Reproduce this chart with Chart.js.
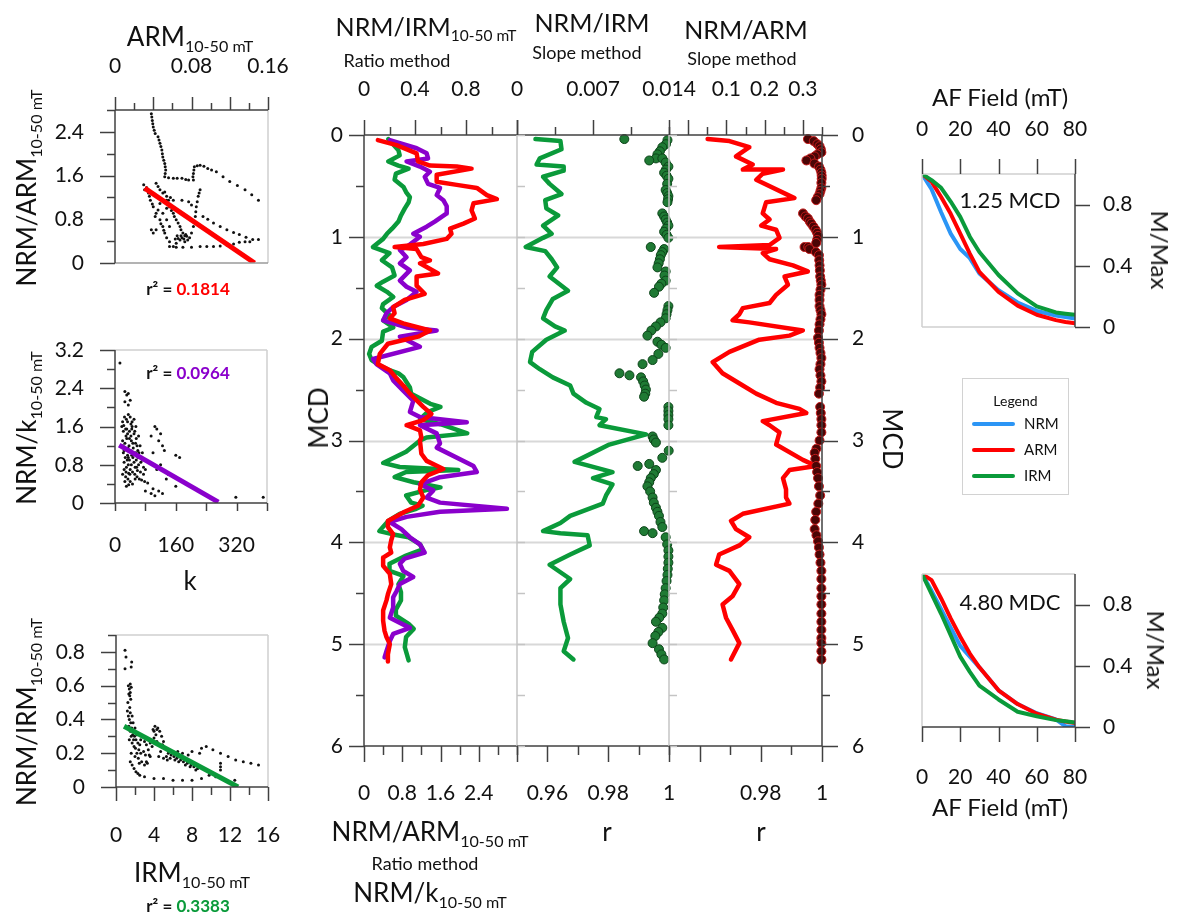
<!DOCTYPE html>
<html>
<head>
<meta charset="utf-8">
<script src="https://cdn.jsdelivr.net/npm/chart.js@4.4.1/dist/chart.umd.min.js"></script>
<style>
  body { margin: 0; background: #fff; }
  #page { position: relative; width: 1177px; height: 920px; overflow: hidden; font-family: Lato, "Open Sans", sans-serif; color: #111; }
  canvas { position: absolute; }
  .t { position: absolute; white-space: nowrap; line-height: 1; }
  .t sub { font-size: 0.62em; vertical-align: -0.35em; line-height: 0; }
  #legend { position: absolute; left: 962px; top: 378px; width: 105px; height: 115px; border: 1.5px solid #d2d2d2; font-size: 15px; }
  #legend .h { position: absolute; left: 0; width: 100%; top: 13px; text-align: center; font-size: 14px; }
  #legend .row { position: absolute; left: 9px; height: 16px; }
  #legend .row i { position: absolute; left: 0; top: 6px; width: 43px; height: 4px; border-radius: 2px; }
  #legend .row span { position: absolute; left: 52px; top: -2px; }
</style>
</head>
<body>
<div id="page"></div>
<script>
const FONT = 'Lato, "Open Sans", sans-serif';
const TICK = 21;
const RED = '#ff0000', PURPLE = '#8a00cc', GREEN = '#0a9a3a', BLUE = '#2b95f5';

// ---- left scatter panels ----
const armTicks = ['0', '0.08', '0.16'];
const armRatioTicks = ['0', '0.8', '1.6', '2.4'];
const armPoints = [
  [0.038,2.73],[0.0385,2.67],[0.039,2.61],[0.0395,2.55],[0.040,2.49],[0.041,2.43],[0.042,2.37],[0.045,2.31],[0.046,2.25],
  [0.047,2.19],[0.048,2.13],[0.049,2.07],[0.0495,2.0],[0.050,1.94],[0.051,1.88],[0.052,1.82],[0.0525,1.76],[0.053,1.70],
  [0.0525,1.64],[0.052,1.58],[0.056,1.56],[0.061,1.55],[0.065,1.55],[0.070,1.55],[0.074,1.53],[0.077,1.52],[0.082,1.52],
  [0.0815,1.58],[0.082,1.64],[0.0825,1.70],[0.083,1.76],[0.086,1.78],[0.089,1.79],[0.093,1.77],[0.097,1.73],[0.101,1.70],
  [0.106,1.67],[0.113,1.58],[0.120,1.49],[0.128,1.42],[0.136,1.34],[0.143,1.25],[0.150,1.15],
  [0.089,1.34],[0.088,1.28],[0.087,1.22],[0.086,1.12],[0.085,1.03],[0.0845,0.94],[0.084,0.85],[0.083,0.76],[0.082,0.67],
  [0.092,0.85],[0.097,0.80],[0.103,0.73],[0.110,0.67],[0.117,0.61],[0.124,0.56],[0.130,0.52],[0.137,0.47],[0.144,0.43],[0.150,0.43],
  [0.057,0.30],[0.061,0.30],[0.064,0.29],[0.071,0.29],[0.080,0.29],[0.089,0.30],[0.096,0.30],[0.103,0.30],[0.110,0.31],
  [0.117,0.33],[0.124,0.35],[0.130,0.38],[0.136,0.39],[0.141,0.39],
  [0.030,1.43],[0.031,1.34],[0.035,1.28],[0.037,1.15],[0.040,1.03],[0.043,0.91],[0.047,0.79],[0.050,0.67],[0.052,0.55],
  [0.054,0.46],[0.057,0.39],[0.043,1.46],[0.047,1.34],[0.050,1.28],[0.054,1.22],[0.056,1.15],[0.057,1.03],[0.061,0.91],
  [0.064,0.79],[0.068,0.67],[0.071,0.55],[0.075,0.49],[0.078,0.46],[0.080,0.55],[0.070,0.46],[0.073,0.39],[0.054,1.15],
  [0.061,1.15],[0.070,1.15],[0.077,1.12],[0.080,1.06],[0.038,0.61],[0.040,0.55],[0.043,0.61],[0.054,0.79],[0.057,0.67],
  [0.047,1.09],[0.042,0.85],[0.054,1.00],[0.050,0.91],[0.064,0.36],[0.065,0.50],[0.066,0.45],[0.068,0.42],[0.072,0.44],
  [0.074,0.52],[0.076,0.42],[0.069,0.50],[0.063,0.44],[0.033,1.38],[0.036,1.22],[0.039,1.08],[0.045,0.97],[0.048,0.72],
  [0.051,0.60],[0.059,0.96],[0.062,0.85],[0.066,0.73],[0.069,0.61],[0.073,0.50],[0.045,1.40],[0.052,1.30],[0.058,1.20]
];
const armFit = [[0.031, 1.37], [0.146, 0]];

const kTicks = ['0', '160', '320'];
const kRatioTicks = ['0', '0.8', '1.6', '2.4', '3.2'];
const kPoints = [
  [13,2.93],[26,2.33],[31,2.26],[35,2.29],[40,2.15],[26,2.12],[35,2.05],
  [20,1.7],[25,1.8],[30,1.75],[35,1.85],[40,1.8],[45,1.7],[50,1.75],[55,1.6],[22,1.5],[28,1.55],[33,1.45],[38,1.5],
  [44,1.55],[50,1.45],[56,1.35],[62,1.4],[20,1.3],[26,1.25],[31,1.35],[37,1.2],[43,1.3],[48,1.15],[54,1.25],[60,1.1],
  [66,1.2],[72,1.05],[22,1.05],[27,0.95],[33,1.0],[38,0.9],[44,1.0],[50,0.85],[56,0.9],[62,0.8],[68,0.85],[75,0.75],
  [80,0.7],[24,0.85],[30,0.75],[35,0.8],[40,0.7],[46,0.65],[52,0.6],[58,0.55],[64,0.5],[70,0.48],[78,0.45],[86,0.42],
  [28,0.55],[34,0.5],[40,0.45],[46,0.4],[30,0.35],[36,0.38],[20,0.6],[18,1.6],[24,1.1],[42,1.4],[55,1.05],[65,0.95],
  [75,0.6],[23,1.62],[29,1.4],[34,1.15],[41,1.1],[47,0.95],[53,0.75],[59,0.68],[36,0.62],[26,0.45],[45,1.6],
  [21,1.2],[27,1.15],[32,0.9],[39,0.6],[43,0.8],[49,1.05],[52,1.5],[58,1.2],[61,0.95],[67,0.65],[72,0.9],[33,1.7],
  [38,1.35],[42,1.65],[47,1.25],[29,0.65],[24,0.7],[35,0.95],[31,1.55],[57,0.75],[63,1.05],[53,0.5],
  [95,1.4],[105,1.6],[110,1.55],[115,1.3],[125,1.2],[130,1.1],[100,1.05],[120,0.8],[110,0.7],[90,0.85],[140,0.6],
  [135,0.5],[100,0.3],[115,0.25],[105,0.15],[125,0.2],[160,1.0],[170,0.95],[160,0.35],[318,0.12],[390,0.12],[95,0.2],
  [80,0.25],[120,1.45]
];
const kFit = [[11, 1.21], [272, 0.02]];

const irmTicks = ['0', '4', '8', '12', '16'];
const irmRatioTicks = ['0', '0.2', '0.4', '0.6', '0.8'];
const irmPoints = [
  [0.95,0.81],[1.05,0.77],[0.95,0.70],[1.65,0.74],[1.6,0.71],[1.3,0.60],[1.4,0.58],[1.5,0.56],[1.45,0.54],[1.55,0.52],
  [1.35,0.55],[1.6,0.59],[1.5,0.61],[1.2,0.45],[1.3,0.42],[1.4,0.40],[1.5,0.44],[1.35,0.36],[1.5,0.33],[1.6,0.30],
  [1.4,0.28],[1.7,0.26],[1.8,0.38],[2.0,0.35],[2.2,0.31],[2.1,0.28],[1.9,0.24],[1.6,0.20],[1.5,0.15],[1.7,0.13],
  [1.9,0.11],[2.1,0.09],[2.3,0.08],[2.0,0.18],[2.4,0.22],[2.6,0.28],[2.8,0.30],[3.0,0.27],[3.2,0.25],[2.5,0.25],
  [2.7,0.15],[3.0,0.13],[3.2,0.15],[3.5,0.19],[3.8,0.24],[3.6,0.26],[3.9,0.34],[4.1,0.36],[4.4,0.35],[4.6,0.33],
  [4.8,0.30],[4.2,0.31],[4.0,0.29],[5.0,0.27],[5.2,0.23],[5.5,0.20],[5.8,0.19],[6.1,0.18],[6.4,0.17],[6.8,0.16],
  [7.1,0.15],[7.5,0.14],[7.9,0.13],[8.2,0.12],[8.6,0.11],[5.0,0.17],[5.4,0.16],[4.7,0.21],[4.5,0.18],[6.0,0.21],
  [6.5,0.21],[7.0,0.20],[7.6,0.19],[8.0,0.21],[8.8,0.20],[9.0,0.23],[9.5,0.24],[10.2,0.22],[11.0,0.20],[11.8,0.18],
  [12.6,0.16],[13.4,0.15],[14.2,0.14],[15.0,0.13],[11.0,0.14],[11.0,0.12],[11.0,0.10],[9.8,0.07],[10.5,0.06],
  [12.5,0.04],[3.0,0.06],[4.0,0.05],[5.0,0.05],[6.0,0.04],[7.0,0.04],[8.0,0.04],[9.0,0.05],[2.5,0.07],[3.3,0.14],
  [3.6,0.18],[1.8,0.33],[2.3,0.26],[1.7,0.42],[2.6,0.2],[3.4,0.22],[4.3,0.27],[1.55,0.38],[1.65,0.35],[1.75,0.31],
  [1.85,0.28],[1.95,0.30],[2.05,0.23],[2.2,0.20],[2.35,0.17],[2.45,0.14],[2.9,0.21],[3.1,0.19],[4.0,0.33],[4.3,0.34],
  [4.9,0.25],[5.3,0.18],[5.7,0.17],[6.2,0.16],[6.6,0.15],[7.3,0.13],[7.8,0.12],[8.4,0.10],[1.25,0.50],[1.45,0.47]
];
const irmFit = [[0.85, 0.36], [12.85, 0]];

// ---- central depth profiles (MCD) ----
const mcdTicks = ['0', '1', '2', '3', '4', '5', '6'];
const ratioTopTicks = ['0', '0.4', '0.8'];
const ratioBottomTicks = ['0', '0.8', '1.6', '2.4'];
const irmSlopeTicks = ['0', '0.007', '0.014'];
const armSlopeTicks = ['0.1', '0.2', '0.3'];
const rTicksB = ['0.96', '0.98', '1'];
const rTicksC = ['0.98', '1'];

const irmRatioDepth = [0.04,0.15,0.20,0.26,0.30,0.33,0.38,0.44,0.51,0.56,0.61,0.66,0.72,0.79,0.85,0.92,0.97,1.02,1.10,1.16,
  1.23,1.30,1.38,1.44,1.48,1.54,1.59,1.66,1.70,1.77,1.82,1.89,1.93,2.02,2.08,2.15,2.21,2.26,2.31,2.34,
  2.38,2.48,2.54,2.64,2.67,2.72,2.79,2.84,2.93,2.97,3.00,3.11,3.22,3.26,3.29,3.31,3.36,3.41,3.46,3.49,
  3.54,3.61,3.64,3.67,3.72,3.79,3.89,3.92,3.95,4.02,4.07,4.13,4.21,4.28,4.33,4.41,4.49,4.57,4.66,4.72,
  4.80,4.85,4.93,5.03,5.16];
const irmRatio = [0.19,0.27,0.28,0.19,0.27,0.35,0.25,0.24,0.31,0.33,0.36,0.35,0.32,0.29,0.27,0.22,0.18,0.15,0.07,0.20,
  0.14,0.22,0.24,0.15,0.10,0.18,0.23,0.15,0.14,0.20,0.15,0.23,0.15,0.14,0.06,0.04,0.06,0.12,0.20,0.27,
  0.31,0.36,0.37,0.52,0.60,0.50,0.44,0.60,0.81,0.49,0.44,0.33,0.15,0.28,0.74,0.33,0.24,0.39,0.60,0.48,
  0.33,0.37,0.46,0.41,0.28,0.19,0.12,0.22,0.35,0.44,0.46,0.33,0.20,0.20,0.31,0.27,0.29,0.29,0.25,0.25,
  0.35,0.39,0.33,0.32,0.35];

const armRatioDepth = [0.05,0.10,0.18,0.26,0.30,0.31,0.33,0.39,0.46,0.49,0.52,0.59,0.63,0.67,0.74,0.82,0.87,0.92,0.97,1.02,
  1.07,1.10,1.12,1.20,1.23,1.26,1.36,1.39,1.48,1.56,1.62,1.69,1.75,1.80,1.85,1.92,1.98,2.05,2.15,2.25,
  2.31,2.39,2.46,2.54,2.67,2.74,2.80,2.85,2.90,2.97,3.00,3.13,3.20,3.28,3.34,3.41,3.48,3.56,3.64,3.70,
  3.79,3.85,3.92,3.98,4.05,4.10,4.15,4.23,4.31,4.41,4.51,4.57,4.67,4.77,4.87,4.93,5.00,5.10,5.17];
const armRatio = [0.29,0.68,1.10,1.13,1.38,1.94,2.25,1.52,1.52,1.94,2.36,2.57,2.78,2.29,2.25,2.32,2.08,1.80,1.83,1.73,
  1.24,0.64,1.10,1.20,1.38,1.17,1.55,1.10,1.10,1.27,0.85,0.61,0.64,0.54,0.82,1.38,1.13,0.50,0.33,0.29,
  0.54,0.68,0.82,0.96,1.24,1.41,1.24,0.89,1.17,1.20,1.17,1.20,1.31,1.66,1.34,1.20,1.17,1.24,1.13,0.85,
  0.50,0.50,0.61,0.57,0.54,0.57,0.40,0.40,0.54,0.57,0.50,0.47,0.40,0.40,0.43,0.47,0.54,0.50,0.50];

const kRatioDepth = [0.05,0.13,0.18,0.23,0.26,0.31,0.36,0.41,0.48,0.52,0.59,0.64,0.70,0.77,0.85,0.90,0.97,1.00,1.10,1.13,
  1.20,1.26,1.33,1.43,1.49,1.54,1.62,1.69,1.75,1.82,1.89,1.92,1.98,2.08,2.20,2.25,2.34,2.41,2.51,2.61,
  2.72,2.77,2.82,2.85,2.93,3.03,3.07,3.25,3.31,3.36,3.43,3.49,3.56,3.61,3.67,3.70,3.75,3.80,3.87,3.95,
  4.02,4.10,4.16,4.21,4.28,4.34,4.41,4.48,4.54,4.64,4.74,4.84,4.90,4.97,5.07,5.13];
const kRatio = [0.54,1.10,1.31,1.34,0.89,1.17,1.38,1.27,1.34,1.59,1.52,1.66,1.73,1.73,1.48,1.31,1.03,1.17,0.89,0.75,
  0.89,0.75,0.96,0.75,0.89,1.10,0.89,0.61,0.47,0.40,0.89,1.52,0.75,1.17,0.19,0.26,0.54,0.61,0.82,1.03,
  0.96,1.17,2.15,1.17,1.52,1.59,1.52,2.29,2.36,1.59,1.17,1.45,1.31,1.59,2.99,1.59,0.89,0.54,0.78,0.96,
  1.17,1.27,0.85,0.75,0.82,1.03,0.75,0.68,0.61,0.61,0.54,0.96,0.61,0.54,0.47,0.43];

const irmSlopeDepth = [0.04,0.06,0.14,0.23,0.29,0.31,0.35,0.41,0.48,0.58,0.64,0.72,0.79,0.89,0.97,1.01,1.10,1.14,1.22,1.30,
  1.39,1.53,1.61,1.72,1.80,1.88,1.92,2.01,2.13,2.23,2.30,2.38,2.46,2.54,2.63,2.69,2.77,2.79,2.85,2.94,
  3.04,3.21,3.31,3.37,3.43,3.54,3.62,3.74,3.81,3.89,3.91,3.93,4.03,4.12,4.22,4.36,4.45,4.61,4.78,4.94,
  5.07,5.15];
const irmSlope = [0.0017,0.0040,0.0041,0.0021,0.0018,0.0043,0.0043,0.0024,0.0030,0.0041,0.0026,0.0027,0.0038,0.0024,0.0032,0.0024,0.0008,0.0026,0.0032,0.0037,
  0.0030,0.0047,0.0033,0.0027,0.0024,0.0035,0.0044,0.0027,0.0014,0.0012,0.0021,0.0033,0.0049,0.0052,0.0064,0.0076,0.0073,0.0082,0.0076,0.0119,
  0.0085,0.0053,0.0088,0.0070,0.0088,0.0082,0.0079,0.0049,0.0040,0.0024,0.0040,0.0065,0.0067,0.0049,0.0030,0.0049,0.0040,0.0040,0.0043,0.0047,
  0.0043,0.0052];

// [depth, r]
const irmSlopeR = [
  [0.04,0.9853],[0.05,0.9995],[0.09,0.9990],[0.12,0.9978],[0.16,0.9970],[0.19,0.9962],[0.23,0.9957],[0.23,0.9978],[0.25,0.9935],
  [0.27,0.9989],[0.31,0.9998],[0.34,0.9990],[0.37,0.9984],[0.40,0.9992],[0.43,0.9998],[0.48,0.9994],[0.54,0.9989],[0.57,0.9994],
  [0.60,0.9998],[0.63,0.9997],[0.66,0.9995],[0.77,0.9978],[0.80,0.9984],[0.83,0.9989],[0.86,0.9994],[0.89,0.9998],[0.92,0.9990],
  [0.95,0.9984],[0.98,0.9992],[1.01,0.9998],[1.10,0.9940],[1.12,0.9984],[1.15,0.9978],[1.18,0.9973],[1.22,0.9970],[1.26,0.9966],
  [1.30,0.9962],[1.34,0.9989],[1.38,0.9985],[1.43,0.9989],[1.46,0.9975],[1.49,0.9967],[1.55,0.9951],[1.68,0.9998],[1.72,0.9995],
  [1.76,0.9992],[1.80,0.9989],[1.84,0.9972],[1.88,0.9957],[1.92,0.9942],[1.97,0.9929],[2.03,0.9962],[2.06,0.9975],[2.09,0.9989],
  [2.15,0.9965],[2.21,0.9946],[2.25,0.9913],[2.34,0.9837],[2.36,0.9870],[2.38,0.9908],[2.42,0.9915],[2.46,0.9920],[2.50,0.9924],
  [2.54,0.9922],[2.57,0.9918],[2.67,0.9998],[2.71,0.9998],[2.75,0.9998],[2.79,0.9998],[2.85,0.9998],[2.96,0.9946],[2.99,0.9950],
  [3.02,0.9957],[3.10,0.9999],[3.17,0.9978],[3.23,0.9935],[3.25,0.9897],[3.29,0.9957],[3.33,0.9950],[3.37,0.9940],[3.41,0.9935],
  [3.45,0.9929],[3.50,0.9938],[3.56,0.9946],[3.61,0.9950],[3.66,0.9957],[3.70,0.9962],[3.74,0.9967],[3.80,0.9972],[3.85,0.9978],
  [3.89,0.9918],[3.91,0.9946],[3.95,0.9989],[4.02,0.9994],[4.08,0.9998],[4.14,0.9998],[4.20,0.9998],[4.26,0.9996],[4.32,0.9995],
  [4.38,0.9992],[4.45,0.9989],[4.51,0.9986],[4.57,0.9984],[4.64,0.9981],[4.70,0.9978],[4.74,0.9968],[4.78,0.9957],[4.84,0.9978],
  [4.88,0.9965],[4.92,0.9955],[4.99,0.9946],[5.05,0.9967],[5.10,0.9975],[5.15,0.9984]
];

const armSlopeDepth = [0.04,0.06,0.12,0.21,0.29,0.34,0.34,0.38,0.44,0.62,0.66,0.77,0.83,0.89,0.93,1.01,1.08,1.10,1.12,1.16,
  1.22,1.28,1.34,1.39,1.47,1.57,1.65,1.70,1.76,1.82,1.84,1.92,1.97,2.01,2.13,2.23,2.34,2.46,2.54,2.63,
  2.69,2.73,2.81,2.85,2.92,3.04,3.19,3.25,3.29,3.37,3.48,3.56,3.62,3.72,3.79,3.87,3.95,4.03,4.12,4.22,
  4.28,4.41,4.53,4.61,4.74,4.86,4.99,5.15];
const armSlope = [0.051,0.108,0.160,0.125,0.169,0.143,0.248,0.195,0.178,0.278,0.204,0.195,0.213,0.191,0.230,0.239,0.213,0.081,0.230,0.195,
  0.213,0.274,0.313,0.252,0.261,0.230,0.213,0.143,0.134,0.116,0.160,0.300,0.265,0.186,0.108,0.064,0.090,0.143,0.178,0.230,
  0.291,0.309,0.195,0.213,0.239,0.230,0.300,0.335,0.265,0.248,0.256,0.256,0.265,0.143,0.112,0.125,0.160,0.134,0.081,0.073,
  0.108,0.134,0.116,0.090,0.099,0.116,0.134,0.112];

const armSlopeR = [
  [0.04,0.9954],[0.06,0.9973],[0.09,0.9985],[0.11,0.9992],[0.14,0.9996],[0.17,0.9998],[0.19,0.9985],[0.21,0.9976],[0.23,0.9962],
  [0.25,0.9949],[0.28,0.9975],[0.31,0.9990],[0.34,0.9995],[0.37,0.9998],[0.40,0.9999],[0.43,0.9999],[0.47,0.9998],[0.52,0.9998],
  [0.55,0.9995],[0.58,0.9992],[0.61,0.9986],[0.64,0.9981],[0.77,0.9938],[0.80,0.9946],[0.82,0.9954],[0.85,0.9960],[0.87,0.9965],
  [0.90,0.9972],[0.93,0.9979],[0.96,0.9984],[0.99,0.9987],[1.03,0.9984],[1.06,0.9981],[1.10,0.9943],[1.10,0.9955],[1.12,0.9959],
  [1.15,0.9980],[1.18,0.9990],[1.23,0.9991],[1.28,0.9992],[1.33,0.9993],[1.39,0.9994],[1.43,0.9996],[1.47,0.9998],[1.52,0.9995],
  [1.57,0.9992],[1.62,0.9992],[1.68,0.9992],[1.72,0.9995],[1.76,0.9998],[1.81,0.9995],[1.86,0.9992],[1.92,0.9990],[1.99,0.9987],
  [2.04,0.9990],[2.09,0.9992],[2.14,0.9995],[2.19,0.9998],[2.25,0.9995],[2.30,0.9992],[2.36,0.9995],[2.42,0.9998],[2.48,0.9994],
  [2.54,0.9990],[2.67,0.9994],[2.73,0.9996],[2.79,0.9998],[2.85,0.9998],[2.92,0.9998],[3.00,0.9992],[3.08,0.9982],[3.12,0.9976],
  [3.18,0.9978],[3.25,0.9981],[3.31,0.9984],[3.37,0.9987],[3.45,0.9990],[3.54,0.9994],[3.62,0.9988],[3.70,0.9981],[3.78,0.9978],
  [3.87,0.9976],[3.93,0.9982],[3.99,0.9987],[4.05,0.9990],[4.12,0.9992],[4.20,0.9995],[4.28,0.9998],[4.36,0.9998],[4.45,0.9998],
  [4.53,0.9998],[4.61,0.9998],[4.70,0.9998],[4.78,0.9998],[4.86,0.9998],[4.94,0.9998],[4.99,0.9998],[5.07,0.9998],[5.15,0.9998]
];

// ---- AF demagnetisation curves ----
const afField = [0, 5, 10, 15, 20, 25, 30, 40, 50, 60, 70, 75, 80];
const afTicks = ['0', '20', '40', '60', '80'];
const mTicks = ['0', '0.4', '0.8'];
const topNrm = [1, 0.90, 0.75, 0.61, 0.51, 0.45, 0.35, 0.24, 0.16, 0.105, 0.075, 0.065, 0.055];
const topArm = [1, 0.95, 0.85, 0.74, 0.61, 0.48, 0.36, 0.23, 0.14, 0.08, 0.045, 0.033, 0.025];
const topIrm = [1, 0.96, 0.91, 0.82, 0.72, 0.59, 0.49, 0.34, 0.22, 0.135, 0.095, 0.087, 0.08];
const botNrm = [1, 0.89, 0.77, 0.65, 0.53, 0.46, 0.39, 0.24, 0.15, 0.09, 0.05, 0.005, 0.0];
const botArm = [1, 0.96, 0.84, 0.71, 0.59, 0.48, 0.39, 0.24, 0.15, 0.087, 0.048, 0.036, 0.026];
const botIrm = [1, 0.87, 0.74, 0.60, 0.46, 0.36, 0.27, 0.18, 0.10, 0.07, 0.045, 0.037, 0.03];

// ------------------------------------------------------------------
const page = document.getElementById('page');
const zip = (xs, ys) => xs.map((x, i) => ({x: x, y: ys[i]}));
const pairs = a => a.map(p => ({x: p[0], y: p[1]}));
const flip = a => a.map(p => ({x: p[1], y: p[0]}));

function pick(labels) {
  return v => {
    const hit = labels.find(s => Math.abs(parseFloat(s) - v) < 1e-7);
    return hit === undefined ? '' : hit;
  };
}

function axis(position, min, max, step, labels, pad, more) {
  return Object.assign({
    type: 'linear', position: position, min: min, max: max,
    ticks: { stepSize: step, autoSkip: false, maxRotation: 0, minRotation: 0, padding: pad,
             color: '#111', font: { family: FONT, size: TICK }, callback: pick(labels) },
    grid: { drawOnChartArea: false, drawTicks: false },
    border: { display: false }
  }, more || {});
}

function seg(ctx, x1, y1, x2, y2, color, w) {
  ctx.strokeStyle = color; ctx.lineWidth = w;
  ctx.beginPath(); ctx.moveTo(x1, y1); ctx.lineTo(x2, y2); ctx.stroke();
}

// frame lines, tick marks and grid lines, all placed through the chart's scales
function decor(d) {
  return {
    id: 'decor',
    beforeDatasetsDraw(chart) {
      const ctx = chart.ctx, a = chart.chartArea;
      ctx.save();
      (d.hlines || []).forEach(v => {
        const y = Math.round(chart.scales.y.getPixelForValue(v)) + 0.5;
        seg(ctx, a.left, y, a.right, y, '#d8d8d8', 2);
      });
      ctx.restore();
    },
    afterDatasetsDraw(chart) {
      const ctx = chart.ctx, a = chart.chartArea;
      ctx.save();
      (d.frame || []).forEach(f => {
        const c = f.color, w = f.width || 1.5;
        if (f.edge === 'left') seg(ctx, a.left, a.top, a.left, a.bottom, c, w);
        if (f.edge === 'right') seg(ctx, a.right, a.top, a.right, a.bottom, c, w);
        if (f.edge === 'top') seg(ctx, a.left, a.top, a.right, a.top, c, w);
        if (f.edge === 'bottom') seg(ctx, a.left, a.bottom, a.right, a.bottom, c, w);
      });
      (d.marks || []).forEach(m => {
        const s = chart.scales[m.scale];
        const n = Math.floor((s.max - s.min) / m.every + 1e-6);
        const base = a[m.edge];
        let sign = (m.edge === 'left' || m.edge === 'top') ? -1 : 1;
        if (m.inward) sign = -sign;
        for (let i = 0; i <= n; i++) {
          const v = s.min + i * m.every;
          const q = v / m.major;
          const len = Math.abs(q - Math.round(q)) < 1e-6 ? m.long : m.short;
          const p = Math.round(s.getPixelForValue(v)) + 0.5;
          if (m.edge === 'left' || m.edge === 'right') seg(ctx, base, p, base + sign * len, p, m.color || '#404040', 1.5);
          else seg(ctx, p, base, p, base + sign * len, m.color || '#404040', 1.5);
        }
      });
      ctx.restore();
    }
  };
}

function makeChart(o) {
  const [L, T, W, H] = o.box;
  const [l, t, r, b] = o.area;
  const cv = document.createElement('canvas');
  cv.width = W; cv.height = H;
  cv.style.left = L + 'px'; cv.style.top = T + 'px';
  cv.style.width = W + 'px'; cv.style.height = H + 'px';
  page.appendChild(cv);
  const size = { left: l - L, right: L + W - r, top: t - T, bottom: T + H - b };
  const pad = Object.assign({}, size);
  Object.values(o.scales).forEach(s => {
    if (s.display === false) return;
    pad[s.position] = 0;
    s.afterFit = sc => {
      if (sc.isHorizontal()) sc.height = size[s.position]; else sc.width = size[s.position];
      sc.paddingLeft = 0; sc.paddingRight = 0; sc.paddingTop = 0; sc.paddingBottom = 0;
    };
  });
  return new Chart(cv, {
    type: 'scatter',
    data: { datasets: o.datasets },
    options: {
      responsive: false, animation: false, events: [],
      layout: { padding: pad },
      plugins: { legend: { display: false }, tooltip: { enabled: false } },
      scales: o.scales
    },
    plugins: [decor(o.decor)]
  });
}

const AX = '#404040', GR = '#cfcfcf';
const dots = data => ({ data: data, pointRadius: 1.5, pointBackgroundColor: '#111', pointBorderWidth: 0 });
const fit = (data, color) => ({ data: data, showLine: true, borderColor: color, borderWidth: 5, pointRadius: 0 });
const prof = (data, color, axisId, w) => ({ data: data, xAxisID: axisId, showLine: true, borderColor: color,
  borderWidth: w || 4.5, pointRadius: 0, tension: 0, borderJoinStyle: 'round', borderCapStyle: 'round' });

// ---------- ARM scatter ----------
makeChart({
  box: [0, 40, 300, 260], area: [115, 110, 268, 263],
  scales: {
    x: axis('top', 0, 0.16, 0.02, armTicks, 31),
    y: axis('left', 0, 2.8, 0.4, armRatioTicks, 31)
  },
  datasets: [fit(pairs(armFit), RED), dots(pairs(armPoints))],
  decor: {
    frame: [{edge: 'right', color: GR}, {edge: 'bottom', color: '#9a9a9a'}, {edge: 'top', color: AX}, {edge: 'left', color: AX}],
    marks: [{scale: 'x', edge: 'top', every: 0.02, major: 0.04, long: 13, short: 7},
            {scale: 'y', edge: 'left', every: 0.4, major: 0.8, long: 15, short: 8}]
  }
});

// ---------- k scatter ----------
makeChart({
  box: [0, 330, 300, 240], area: [115, 350, 267, 503],
  scales: {
    x: axis('bottom', 0, 400, 80, kTicks, 30),
    y: axis('left', 0, 3.2, 0.4, kRatioTicks, 31)
  },
  datasets: [fit(pairs(kFit), PURPLE), dots(pairs(kPoints))],
  decor: {
    frame: [{edge: 'right', color: GR}, {edge: 'top', color: GR}, {edge: 'bottom', color: AX}, {edge: 'left', color: AX}],
    marks: [{scale: 'x', edge: 'bottom', every: 80, major: 80, long: 8, short: 8},
            {scale: 'y', edge: 'left', every: 0.4, major: 0.8, long: 15, short: 8}]
  }
});

// ---------- IRM scatter ----------
makeChart({
  box: [0, 610, 300, 250], area: [116, 635, 268, 787],
  scales: {
    x: axis('bottom', 0, 16, 2, irmTicks, 36),
    y: axis('left', 0, 0.9, 0.1, irmRatioTicks, 31)
  },
  datasets: [fit(pairs(irmFit), GREEN), dots(pairs(irmPoints))],
  decor: {
    frame: [{edge: 'right', color: GR}, {edge: 'top', color: GR}, {edge: 'bottom', color: AX}, {edge: 'left', color: AX}],
    marks: [{scale: 'x', edge: 'bottom', every: 2, major: 4, long: 14, short: 8},
            {scale: 'y', edge: 'left', every: 0.1, major: 0.2, long: 15, short: 8}]
  }
});

// ---------- central: ratio method ----------
const depthAxis = (pos, show) => axis(pos, 0, 6, 0.5, show ? mcdTicks : [], pos === 'left' ? 21 : 30, { reverse: true });
const hlines = [1, 2, 3, 4, 5];

makeChart({
  box: [290, 60, 260, 760], area: [364, 135, 517, 746],
  scales: {
    x: axis('bottom', 0, 3.2, 0.4, ratioBottomTicks, 35),
    x2: axis('top', 0, 1.2, 0.2, ratioTopTicks, 33),
    y: depthAxis('left', true)
  },
  datasets: [
    prof(zip(armRatio, armRatioDepth), RED, 'x'),
    prof(zip(kRatio, kRatioDepth), PURPLE, 'x'),
    prof(zip(irmRatio, irmRatioDepth), GREEN, 'x2')
  ],
  decor: {
    hlines: hlines,
    frame: [{edge: 'left', color: AX}, {edge: 'top', color: AX}, {edge: 'bottom', color: AX}],
    marks: [{scale: 'y', edge: 'left', every: 0.5, major: 1, long: 15, short: 8},
            {scale: 'x', edge: 'bottom', every: 0.4, major: 0.8, long: 16, short: 9},
            {scale: 'x2', edge: 'top', every: 0.2, major: 0.4, long: 15, short: 8}]
  }
});

// ---------- central: NRM/IRM slope ----------
makeChart({
  box: [480, 60, 230, 760], area: [517, 135, 669, 746],
  scales: {
    x: axis('bottom', 0.95, 1.0, 0.01, rTicksB, 35),
    x2: axis('top', 0, 0.014, 0.0035, irmSlopeTicks, 33),
    y: { type: 'linear', display: false, position: 'left', min: 0, max: 6, reverse: true }
  },
  datasets: [
    { data: flip(irmSlopeR), xAxisID: 'x', clip: false, pointRadius: 4.5, pointBackgroundColor: '#1f7a34', pointBorderColor: '#0c4419', pointBorderWidth: 1 },
    prof(zip(irmSlope, irmSlopeDepth), GREEN, 'x2')
  ],
  decor: {
    hlines: hlines,
    frame: [{edge: 'left', color: '#c4c4c4'}, {edge: 'top', color: AX}, {edge: 'bottom', color: AX}],
    marks: [{scale: 'y', edge: 'left', inward: true, every: 0.5, major: 1, long: 8, short: 8, color: '#c4c4c4'},
            {scale: 'x', edge: 'bottom', every: 0.01, major: 0.02, long: 16, short: 9},
            {scale: 'x2', edge: 'top', every: 0.0035, major: 0.007, long: 15, short: 8}]
  }
});

// ---------- central: NRM/ARM slope ----------
makeChart({
  box: [640, 60, 290, 760], area: [669, 135, 822, 746],
  scales: {
    x: axis('bottom', 0.95, 1.0, 0.01, rTicksC, 35),
    x2: axis('top', -0.05, 0.35, 0.05, armSlopeTicks, 33),
    y: depthAxis('right', true)
  },
  datasets: [
    { data: flip(armSlopeR), xAxisID: 'x', clip: false, pointRadius: 4.5, pointBackgroundColor: '#4a0505', pointBorderColor: '#c41a1a', pointBorderWidth: 1 },
    prof(zip(armSlope, armSlopeDepth), RED, 'x2')
  ],
  decor: {
    hlines: hlines,
    frame: [{edge: 'left', color: '#c4c4c4'}, {edge: 'right', color: AX}, {edge: 'top', color: AX}, {edge: 'bottom', color: AX}],
    marks: [{scale: 'y', edge: 'left', inward: true, every: 0.5, major: 1, long: 8, short: 8, color: '#c4c4c4'},
            {scale: 'y', edge: 'right', every: 0.5, major: 1, long: 16, short: 8},
            {scale: 'x', edge: 'bottom', every: 0.01, major: 0.02, long: 16, short: 9},
            {scale: 'x2', edge: 'top', every: 0.05, major: 0.1, long: 15, short: 8}]
  }
});

// ---------- AF curves ----------
const afLines = (n, a, i) => [
  prof(zip(afField, i), GREEN, 'x', 4),
  prof(zip(afField, a), RED, 'x', 4),
  prof(zip(afField, n), BLUE, 'x', 4)
];
makeChart({
  box: [880, 110, 297, 240], area: [922, 174, 1075, 327],
  scales: {
    x: axis('top', 0, 80, 20, afTicks, 32),
    y: axis('right', 0, 1, 0.4, mTicks, 28)
  },
  datasets: afLines(topNrm, topArm, topIrm),
  decor: {
    frame: [{edge: 'left', color: GR}, {edge: 'top', color: GR}, {edge: 'bottom', color: GR}, {edge: 'right', color: AX}],
    marks: [{scale: 'x', edge: 'top', every: 20, major: 20, long: 15, short: 15},
            {scale: 'y', edge: 'right', every: 0.4, major: 0.4, long: 15, short: 15}]
  }
});
makeChart({
  box: [880, 550, 297, 290], area: [922, 574, 1075, 727],
  scales: {
    x: axis('bottom', 0, 80, 20, afTicks, 38),
    y: axis('right', 0, 1, 0.4, mTicks, 28)
  },
  datasets: afLines(botNrm, botArm, botIrm),
  decor: {
    frame: [{edge: 'left', color: GR}, {edge: 'top', color: GR}, {edge: 'bottom', color: AX}, {edge: 'right', color: AX}],
    marks: [{scale: 'x', edge: 'bottom', every: 20, major: 20, long: 15, short: 15},
            {scale: 'y', edge: 'right', every: 0.4, major: 0.4, long: 15, short: 15}]
  }
});

// ---------- text ----------
function label(html, x, y, size, rot, bold) {
  const el = document.createElement('div');
  el.className = 't';
  el.innerHTML = html;
  el.style.left = x + 'px';
  el.style.top = y + 'px';
  el.style.fontSize = size + 'px';
  if (bold) el.style.fontWeight = 'bold';
  el.style.transform = 'translate(-50%,-50%) rotate(' + (rot || 0) + 'deg)';
  page.appendChild(el);
}
const SUB = '<sub>10-50 mT</sub>';
const r2 = (v, c) => 'r² = <span style="color:' + c + '">' + v + '</span>';

label('ARM' + SUB, 190, 36, 26);
label('NRM/ARM' + SUB, 26, 188, 26, -90);
label(r2('0.1814', RED), 188, 288, 17, 0, true);
label('NRM/k' + SUB, 26, 428, 26, -90);
label(r2('0.0964', PURPLE), 188, 372, 17, 0, true);
label('k', 190, 580, 26);
label('NRM/IRM' + SUB, 26, 712, 26, -90);
label('IRM' + SUB, 192, 872, 26);
label(r2('0.3383', GREEN), 188, 905, 17, 0, true);

label('NRM/IRM' + SUB, 426, 26, 25);
label('Ratio method', 397, 60, 18);
label('NRM/IRM', 592, 22, 25);
label('Slope method', 587, 52, 18);
label('NRM/ARM', 746, 29, 25);
label('Slope method', 742, 58, 18);
label('MCD', 318, 418, 26, -90);
label('MCD', 893, 439, 26, 90);
label('NRM/ARM' + SUB, 430, 831, 26);
label('r', 607, 831, 26);
label('r', 761, 831, 26);
label('Ratio method', 425, 863, 18);
label('NRM/k' + SUB, 430, 892, 26);

label('AF Field (mT)', 1000, 97, 24);
label('1.25 MCD', 1010, 200, 22);
label('M/Max', 1160, 250, 24, 90);
label('4.80 MDC', 1010, 602, 22);
label('AF Field (mT)', 1000, 807, 24);
label('M/Max', 1156, 650, 24, 90);

const lg = document.createElement('div');
lg.id = 'legend';
lg.innerHTML = '<div class="h">Legend</div>' +
  [['NRM', BLUE], ['ARM', RED], ['IRM', GREEN]].map((e, i) =>
    '<div class="row" style="top:' + (37 + i * 26) + 'px"><i style="background:' + e[1] + '"></i><span>' + e[0] + '</span></div>').join('');
page.appendChild(lg);
</script>
</body>
</html>
